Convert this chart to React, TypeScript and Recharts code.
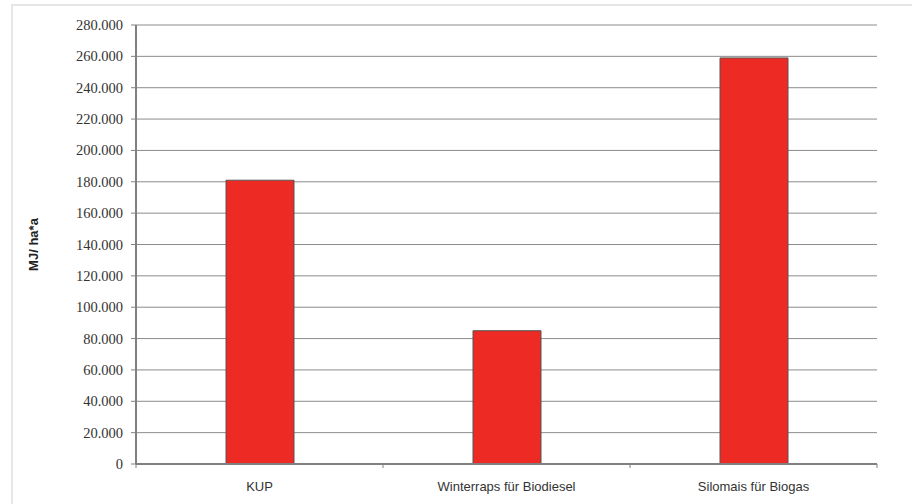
import React from 'react';
import { BarChart, Bar, XAxis, YAxis, CartesianGrid, Label } from 'recharts';

// Energy yield per hectare and year for each crop
const categories: string[] = ['KUP', 'Winterraps für Biodiesel', 'Silomais für Biogas'];
const energyYield: number[] = [181000, 85000, 259000];
const yTicks: number[] = [0, 20000, 40000, 60000, 80000, 100000, 120000, 140000, 160000, 180000, 200000, 220000, 240000, 260000, 280000];
const yAxisTitle = 'MJ/ ha*a';

const data = categories.map((name, i) => ({ name, value: energyYield[i] }));

const CHART_W = 912;
const CHART_H = 504;
const MARGIN = { top: 25, right: 35, bottom: 0, left: 0 };
const Y_AXIS_W = 136;
const X_AXIS_H = 40;
const PLOT_W = CHART_W - MARGIN.left - MARGIN.right - Y_AXIS_W;

const AXIS_GREY = '#808080';
const SERIF = '"Liberation Serif", "Times New Roman", serif';
const SANS = '"Liberation Sans", Arial, sans-serif';

// German thousands separator: 280000 -> "280.000"
const formatThousands = (v: number): string => {
  if (v === 0) return '0';
  const thousands = Math.floor(v / 1000);
  const rest = v % 1000;
  return `${thousands}.${String(rest).padStart(3, '0')}`;
};

// Value labels drawn as plain SVG text to the left of each tick mark
const ValueTick = (props: any) => {
  const { x, y, payload } = props;
  return (
    <g className="value-tick">
      <text x={x} y={y + 5} textAnchor="end" fill="#333333" style={{ fontFamily: SERIF, fontSize: '14.5px' }}>
        {formatThousands(payload.value)}
      </text>
    </g>
  );
};

// Category label centred under the bar, with small tick marks at the category boundaries
const CategoryTick = (props: any) => {
  const { x, y, payload, index } = props;
  const band = PLOT_W / categories.length;
  const left = x - band / 2;
  const right = x + band / 2;
  const last = index === categories.length - 1;
  return (
    <g>
      <line x1={left} x2={left} y1={y} y2={y + 4} stroke={AXIS_GREY} strokeWidth={1} />
      {last && <line x1={right} x2={right} y1={y} y2={y + 4} stroke={AXIS_GREY} strokeWidth={1} />}
      <text x={x} y={y + 27} textAnchor="middle" fill="#333333" style={{ fontFamily: SANS, fontSize: '13px' }}>
        {payload.value}
      </text>
    </g>
  );
};

export default function App() {
  return (
    <div style={{ position: 'absolute', left: 0, top: 0, width: CHART_W, height: CHART_H, background: '#ffffff' }}>
      <div
        style={{
          position: 'absolute',
          left: 11,
          top: 4,
          right: 0,
          bottom: 0,
          borderLeft: '2px solid #e6e6e6',
          borderTop: '2px solid #e6e6e6',
        }}
      />
      <div style={{ position: 'absolute', left: 0, top: 0 }}>
        <BarChart width={CHART_W} height={CHART_H} data={data} margin={MARGIN}>
          <CartesianGrid vertical={false} stroke="#8c8c8c" strokeWidth={1} />
          <XAxis
            dataKey="name"
            height={X_AXIS_H}
            axisLine={{ stroke: AXIS_GREY, strokeWidth: 2 }}
            tickLine={false}
            tickSize={0}
            tickMargin={0}
            interval={0}
            tick={(p: any) => <CategoryTick {...p} />}
          />
          <YAxis
            width={Y_AXIS_W}
            domain={[0, 280000]}
            ticks={yTicks}
            interval={0}
            axisLine={{ stroke: AXIS_GREY, strokeWidth: 2 }}
            tickLine={{ stroke: AXIS_GREY }}
            tickSize={5}
            tickMargin={8}
            tick={(p: any) => <ValueTick {...p} />}
          >
            <Label
              value={yAxisTitle}
              angle={-90}
              position="insideLeft"
              offset={33}
              textAnchor="middle"
              style={{
                fontFamily: SANS,
                fontSize: 13,
                fontWeight: 'bold',
                fill: '#222222',
                textAnchor: 'middle',
              }}
            />
          </YAxis>
          <Bar dataKey="value" fill="#ee2a24" stroke="#555555" strokeWidth={1} barSize={68} isAnimationActive={false} />
        </BarChart>
      </div>
    </div>
  );
}
